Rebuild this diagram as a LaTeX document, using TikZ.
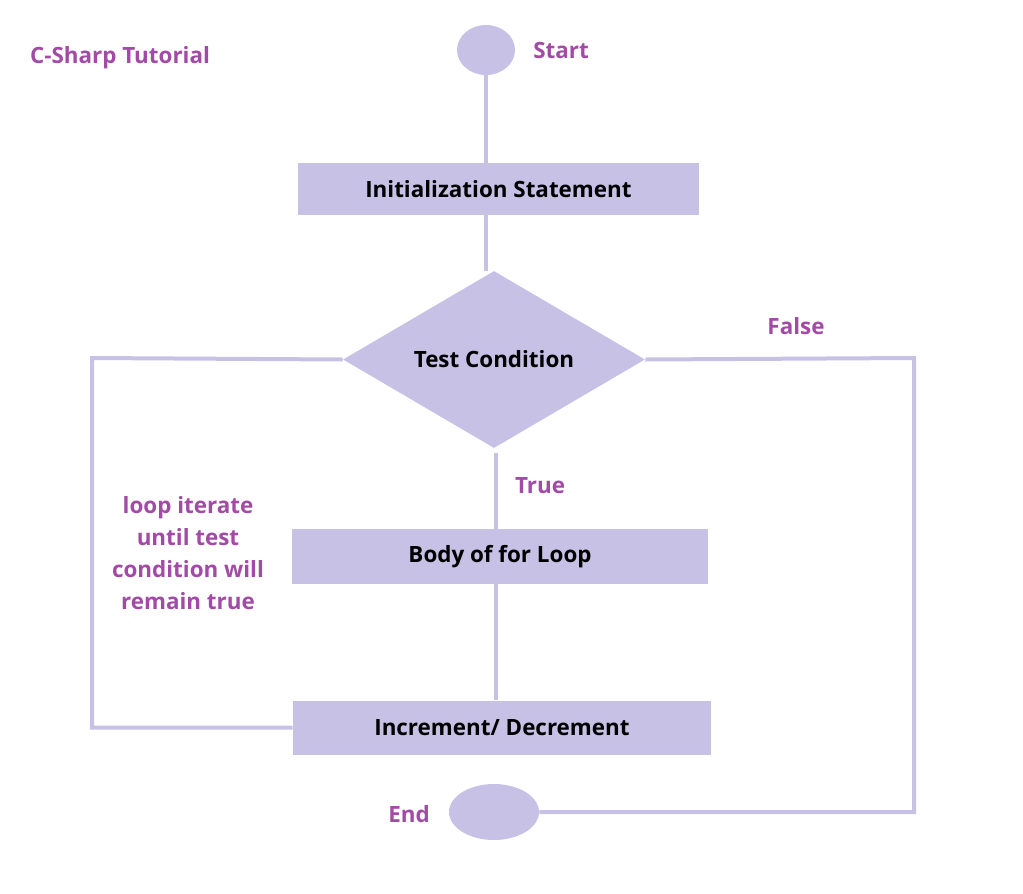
\documentclass[tikz,border=0pt]{standalone}
\usepackage{fontspec}
\setmainfont{Open Sans}
\usepackage{tikz}
\usetikzlibrary{positioning, calc, shapes.geometric}
\definecolor{lav}{HTML}{C7C1E6}
\definecolor{plum}{HTML}{A24AA6}
\tikzset{
    box/.style={rectangle, fill=lav, inner sep=0pt, font=\fontsize{16.8}{19}\selectfont\bfseries, text=black},
    term/.style={ellipse, fill=lav, inner sep=0pt},
    flow/.style={draw=lav, line width=3pt},
    lbl/.style={font=\fontsize{16.8}{24}\selectfont\bfseries, text=plum, inner sep=0pt}
}

\begin{document}
\begin{tikzpicture}[
  x=0.75pt, y=-0.75pt,
  cond/.style={diamond, fill=lav, inner sep=0pt, aspect=1.7, minimum width=226.5pt, minimum height=132.75pt, font=\fontsize{16.8}{19}\selectfont\bfseries}
]
\useasboundingbox (0,0) rectangle (1023,893);

% Nodes
\node[term, minimum width=43.5pt, minimum height=37.5pt] (start) at (486,50) {};
\node[box, minimum width=300.75pt, minimum height=39pt] (init) at (498.5,189) {Initialization Statement};
\node[cond] (test) at (494,359.5) {Test Condition};
\node[box, minimum width=312pt, minimum height=41.25pt] (body) at (500,556.5) {Body of for Loop};
\node[box, minimum width=313.5pt, minimum height=40.5pt] (incr) at (502,727.5) {Increment/ Decrement};
\node[term, minimum width=67.5pt, minimum height=42pt] (end) at (494,812) {};

% Labels
\node[lbl] (title) at (120,58) {C-Sharp Tutorial};
\node[lbl] (startlbl) at (561,50) {Start};
\node[lbl] (endlbl) at (409,814) {End};
\node[lbl] (falselbl) at (796,326) {False};
\node[lbl] (truelbl) at (540,486) {True};
\node[lbl, align=center] (looplbl) at (188,553) {loop iterate\\until test\\condition will\\remain true};

% Corners of the loops
\coordinate (lcorner) at (92,358);
\coordinate (rcorner) at (914,358);
\coordinate (tbot) at ($(test.south)+(2,5)$);

% Lines down the middle
\draw[flow] (start.south) -- (start.south |- init.north);
\draw[flow] (start.south |- init.south) -- (start.south |- test.north);
\draw[flow] (tbot) -- (tbot |- body.north);
\draw[flow] (tbot |- body.south) -- (tbot |- incr.north);

% Loop back and exit
\draw[flow] (test.west) -- (lcorner) |- (incr.west);
\draw[flow] (test.east) -- (rcorner) |- (end.east);
\end{tikzpicture}
\end{document}
